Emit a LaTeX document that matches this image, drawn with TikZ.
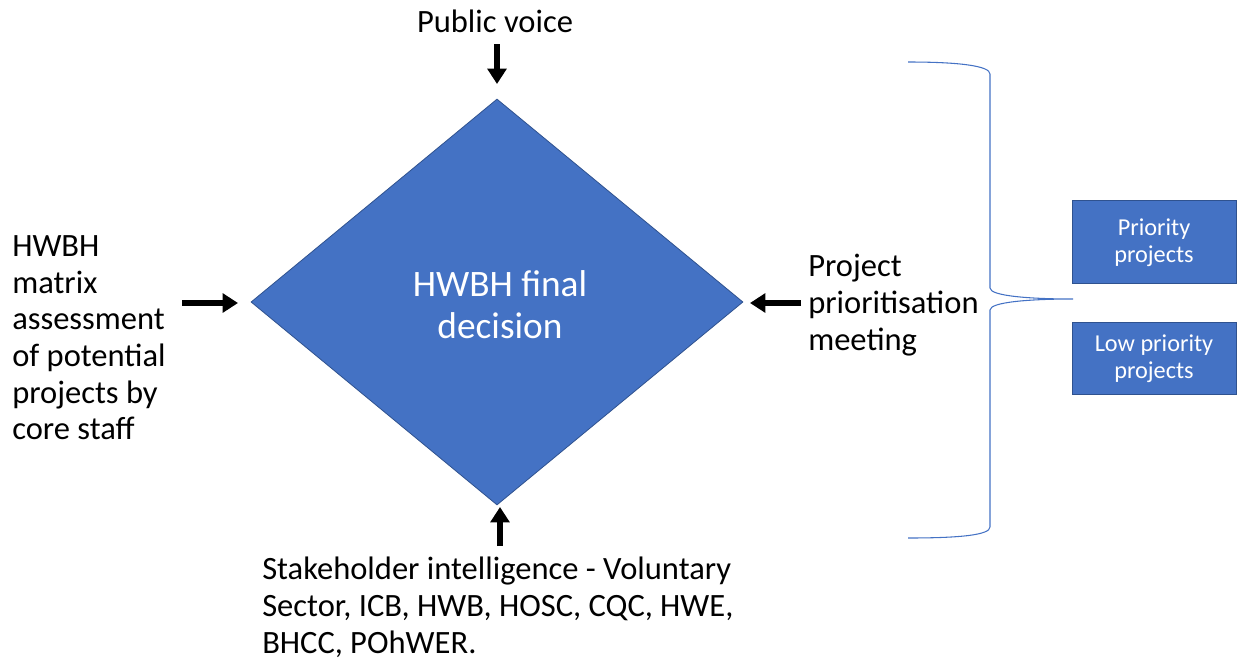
\documentclass[tikz,border=0pt]{standalone}
\usepackage{fontspec}
\setmainfont{Carlito}
\usetikzlibrary{shapes.geometric,arrows.meta}
\definecolor{officeblue}{HTML}{4472C4}
\definecolor{officeedge}{HTML}{2F528F}
\begin{document}
\begin{tikzpicture}[x=0.75pt,y=-0.75pt,
  label text/.style={inner sep=0pt, font=\fontsize{24.4pt}{27.5pt}\selectfont, align=left},
  push arrow/.style={line width=3.8pt, -{Triangle[length=11.5pt,width=14pt]}},
  outcome box/.style={draw=officeedge, line width=0.6pt, fill=officeblue, text=white,
    minimum width=123pt, inner sep=0pt, align=center,
    font=\fontsize{18.2pt}{20.25pt}\selectfont}]
\useasboundingbox (0,0) rectangle (1242,657);

% central decision diamond
\node[diamond, draw=officeedge, line width=0.6pt, fill=officeblue, inner sep=0pt,
      minimum width=369pt, minimum height=304.5pt] (dia) at (497,302) {};
\node[text=white, align=center, inner sep=0pt,
      font=\fontsize{28pt}{31.5pt}\selectfont] (dtext) at (500,305) {HWBH final\\decision};

% inputs
\node[label text, anchor=center] (pub) at (495,21) {Public voice};
\node[label text, anchor=west] (core) at (12,338)
  {HWBH\\matrix\\assessment\\of potential\\projects by\\core staff};
\node[label text, anchor=west] (meet) at (808,305) {Project\\prioritisation\\meeting};
\node[label text, anchor=north west] (stake) at (262,557)
  {Stakeholder intelligence - Voluntary\\Sector, ICB, HWB, HOSC, CQC, HWE,\\BHCC, POhWER.};

% arrow ends
\coordinate (pubA) at (497,44);   \coordinate (pubB) at (497,84);
\coordinate (coreA) at (182,303); \coordinate (coreB) at (238,303);
\coordinate (meetA) at (801,303); \coordinate (meetB) at (750,303);
\coordinate (stakeA) at (500,546);\coordinate (stakeB) at (500,507);

\draw[push arrow] (pubA) -- (pubB);
\draw[push arrow] (coreA) -- (coreB);
\draw[push arrow] (meetA) -- (meetB);
\draw[push arrow] (stakeA) -- (stakeB);

% outcome boxes
\node[outcome box, minimum height=62.25pt] (prio) at (1154,241.5) {\strut Priority\\projects};
\node[outcome box, minimum height=54pt] (low) at (1154,358) {\strut Low priority\\projects};

% brace grouping the outcomes
\draw[officeblue, line width=0.8pt]
  (908,62) .. controls (960,62) and (990,66) .. (990,74)
  -- (990,288) .. controls (990,296) and (1030,299) .. (1073,299)
  (1073,299) .. controls (1030,299) and (990,302) .. (990,310)
  -- (990,527) .. controls (990,535) and (960,538) .. (908,538);
\end{tikzpicture}
\end{document}
